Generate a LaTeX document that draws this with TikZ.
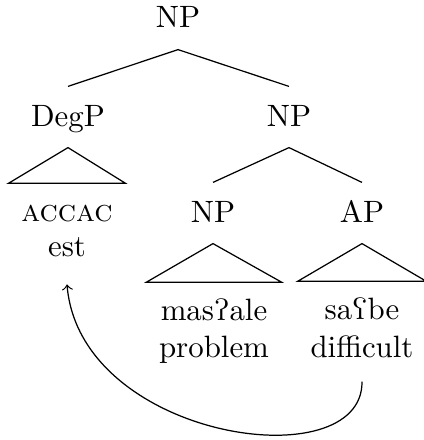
\documentclass[tikz,border=0pt]{standalone}
\usepackage{tipa}
\begin{document}
\begin{tikzpicture}[x=0.324pt,y=-0.324pt,
  lab/.style={anchor=base,inner xsep=2pt,inner ysep=5.8pt,text height=6.83pt,text depth=1pt},
  leaf/.style={anchor=base,inner xsep=4pt,inner ysep=5.1pt,text height=6.9pt,text depth=1.9pt},
  edge/.style={line width=0.4pt}]
\useasboundingbox (0,0) rectangle (424,440);
% labels
\node[lab] (np1) at (178,28) {NP};
\node[lab] (degp) at (68,126) {DegP};
\node[lab] (np2) at (289,126) {NP};
\node[lab] (np3) at (213,222) {NP};
\node[lab] (ap) at (362,222) {AP};
% leaves
\node[leaf] (accac) at (67,221) {\textsc{accac}};
\node[leaf] (est) at (67,256) {est};
\node[leaf] (masale) at (214,320) {mas\textglotstop ale};
\node[leaf] (problem) at (214,357) {problem};
\node[leaf] (sabe) at (362,319) {sa\textrevglotstop be};
\node[leaf] (difficult) at (362,357) {difficult};
% branches
\draw[edge] (degp.north) -- (np1.south) -- (np2.north);
\draw[edge] (np3.north) -- (np2.south) -- (ap.north);
% triangles
\draw[edge] (degp.south) -- (accac.north west) -- (accac.north east) -- cycle;
\draw[edge] (np3.south) -- (masale.north -| problem.west) -- (masale.north -| problem.east) -- cycle;
\draw[edge] (ap.south) -- (sabe.north -| difficult.west) -- (sabe.north -| difficult.east) -- cycle;
% movement arrow
\draw[edge,->] ([yshift=-0.8pt]difficult.south) .. controls (363,480) and (80,440) .. ([yshift=-2pt]est.south);
\end{tikzpicture}
\end{document}
